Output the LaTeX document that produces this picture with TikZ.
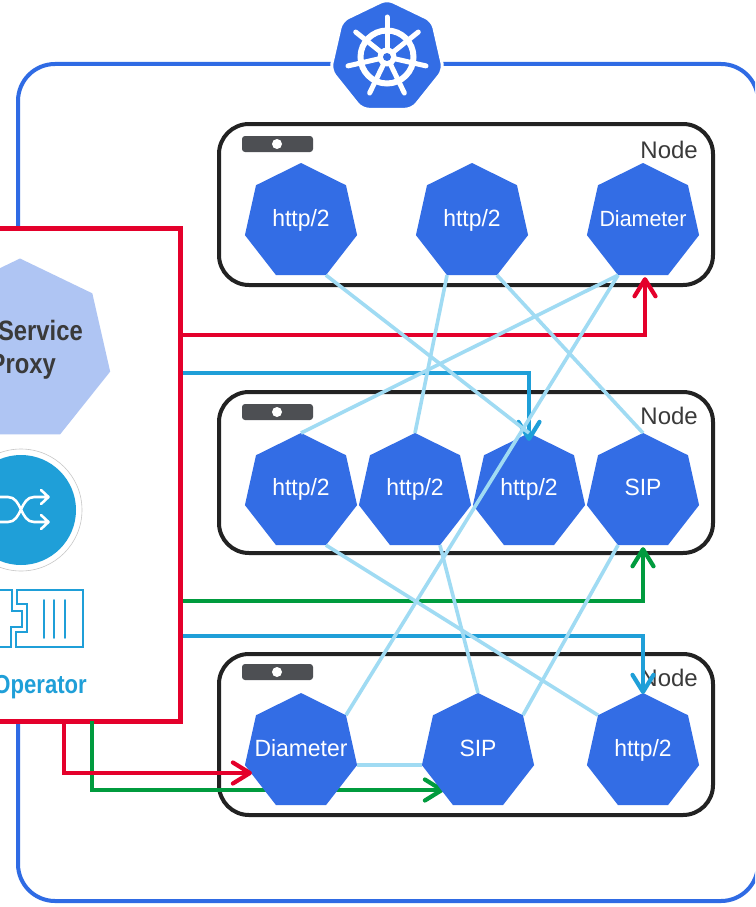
\documentclass[tikz,border=0pt]{standalone}
\usepackage{fontspec}
\usepackage{graphicx}
\setmainfont{Liberation Sans}
\usetikzlibrary{shapes.geometric,arrows.meta,calc}
\definecolor{kblue}{HTML}{336DE5}
\definecolor{kline}{HTML}{2F6BE4}
\definecolor{lightpod}{HTML}{AFC5F3}
\definecolor{redbox}{HTML}{E4002B}
\definecolor{cyanline}{HTML}{1F9FD8}
\definecolor{greenline}{HTML}{009B3E}
\definecolor{paleline}{HTML}{A0DBF3}
\definecolor{chipgrey}{HTML}{4D4F53}
\definecolor{nodeblack}{HTML}{222222}
\definecolor{textgrey}{HTML}{3A3A3A}
\newcommand{\podtext}[2]{\makebox[0pt]{\raisebox{#1}[0pt][0pt]{#2}}}
\tikzset{
  pod/.style={regular polygon,regular polygon sides=7,minimum size=118pt,inner sep=0pt,outer sep=0pt,fill=kblue,text=white,xscale=.975,transform shape,font=\fontsize{23.5}{23.5}\selectfont},
  nodebox/.style={draw=nodeblack,line width=4pt,rounded corners=30pt,minimum width=494pt,minimum height=161pt,inner sep=0pt,fill=white},
  chip/.style={fill=chipgrey,rounded corners=3pt,minimum width=71pt,minimum height=16pt,inner sep=0pt},
  chipdot/.style={circle,fill=white,minimum size=10pt,inner sep=0pt},
  nodelabel/.style={text=textgrey,font=\fontsize{24}{24}\selectfont,inner sep=0pt,anchor=east},
  wire/.style={line width=4pt,line join=miter,-{Straight Barb[length=17pt,width=21pt,line width=4.2pt,round]}},
  pale/.style={draw=paleline,line width=3.6pt},
  icon/.style={draw=cyanline,line width=1.7pt}
}
\begin{document}
\begin{tikzpicture}[x=1pt,y=-1pt]
\clip (0,0) rectangle (755,907);
\fill[white] (0,0) rectangle (755,907);
% cluster frame
\node[draw=kline,line width=4pt,rounded corners=37pt,minimum width=740pt,minimum height=837pt,inner sep=0pt] (cluster) at (388,482.5) {};
% k8s badge
\node[regular polygon,regular polygon sides=7,minimum size=116pt,inner sep=0pt,fill=kblue,draw=white,line width=3pt,rounded corners=7pt] (badge) at (387,57) {};
\begin{scope}[shift={(387,57)}]
  \draw[white,line width=6pt] (0,0) circle (26.5);
  \foreach \i in {0,...,6}
    \draw[white,line width=5pt,line cap=round] (0,0) -- ({40*cos(90+\i*360/7)},{-40*sin(90+\i*360/7)});
  \fill[white] (0,0) circle (9.5);
  \fill[kblue] (0,0) circle (4);
\end{scope}
% kubernetes nodes
\node[nodebox] (nodeA) at (466,204.5) {};
\node[nodebox] (nodeB) at (466,472.5) {};
\node[nodebox] (nodeC) at (466,734.5) {};
\node[chip] (chipA) at (277.5,144) {};
\node[chip] (chipB) at (277.5,412) {};
\node[chip] (chipC) at (277.5,672) {};
\node[chipdot] (dotA) at (277,144) {};
\node[chipdot] (dotB) at (277,412) {};
\node[chipdot] (dotC) at (277,672) {};
\node[nodelabel] (labA) at (698,150) {Node};
\node[nodelabel] (labB) at (698,416) {Node};
\node[nodelabel] (labC) at (698,678) {Node};
% proxy box
\node[draw=redbox,fill=white,line width=5pt,minimum width=280pt,minimum height=493pt,inner sep=0pt] (proxy) at (40,474.5) {};
\node[regular polygon,regular polygon sides=7,minimum size=185pt,inner sep=0pt,fill=lightpod] (svc) at (20,351) {};
\node[anchor=east,inner sep=0pt,text=textgrey,font=\fontsize{28}{28}\bfseries] (svcA) at (83,330) {\scalebox{.85}[1]{Service}};
\node[anchor=east,inner sep=0pt,text=textgrey,font=\fontsize{28}{28}\bfseries] (svcB) at (56,367) {\scalebox{.85}[1]{Proxy}};
% shuffle icon
\node[circle,draw=black!22,line width=.6pt,minimum size=122pt,inner sep=0pt] (ring) at (21,510) {};
\node[circle,fill=cyanline,minimum size=110pt,inner sep=0pt] (disc) at (21,510) {};
\draw[white,line width=2.6pt,line cap=round,line join=round]
  (-5,497) -- (8,497) .. controls (22,497) and (20,522) .. (34,522) -- (48,522)
  (-5,522) -- (8,522) .. controls (22,522) and (20,497) .. (34,497) -- (48,497)
  (41,490) -- (48.5,497) -- (41,504)
  (41,515) -- (48.5,522) -- (41,529);
% operator icon
\draw[icon,line join=miter] (-2,590) -- (12,590) -- (12,611) -- (22,611) -- (22,627) -- (11,627) -- (11,647) -- (-2,647);
\draw[icon,line join=miter] (17,604) -- (17,590) -- (83,590) -- (83,647) -- (16,647) -- (16,632) -- (27,632) -- (27,604) -- cycle;
\draw[icon,line cap=round] (44,600) -- (44,638) (54,600) -- (54,638) (65,600) -- (65,638);
\node[anchor=east,inner sep=0pt,text=cyanline,font=\fontsize{26}{26}\bfseries] (oper) at (87,687) {\scalebox{.85}[1]{Operator}};
% lower green wire, passes behind the pods
\coordinate (greenBend) at (300,790);
\draw[greenline,line width=4pt] (92,721) |- (greenBend);
\draw[wire,draw=greenline] (greenBend) -- (444,790);
% pods
\node[pod] (a1) at (301,222) {\podtext{-4pt}{http/2}};
\node[pod] (a2) at (472,222) {\podtext{-4pt}{http/2}};
\node[pod,font=\fontsize{22}{22}\selectfont] (a3) at (643,222) {\podtext{-4pt}{Diameter}};
\node[pod] (b1) at (301,492) {\podtext{-3pt}{http/2}};
\node[pod] (b2) at (415,492) {\podtext{-3pt}{http/2}};
\node[pod] (b3) at (529,492) {\podtext{-3pt}{http/2}};
\node[pod] (b4) at (643,492) {\podtext{-3pt}{SIP}};
\node[pod] (c1) at (301,752) {\podtext{-4pt}{Diameter}};
\node[pod] (c2) at (478,752) {\podtext{-4pt}{SIP}};
\node[pod] (c3) at (643,752) {\podtext{-4pt}{http/2}};
% wires
\coordinate (redEnd) at ([xshift=2pt,yshift=-2pt]a3.south);
\draw[wire,draw=redbox] (proxy.east |- 0,335) -| (redEnd);
\coordinate (cyanEndA) at ([yshift=-8pt]b3.north);
\draw[wire,draw=cyanline] (proxy.east |- 0,373) -| (cyanEndA);
\coordinate (greenEnd) at ([yshift=-2pt]b4.south);
\draw[wire,draw=greenline] (proxy.east |- 0,601) -| (greenEnd);
\coordinate (cyanEndB) at ([yshift=-1pt]c3.north);
\draw[wire,draw=cyanline] (proxy.east |- 0,636) -| (cyanEndB);
\coordinate (redEndB) at (252,773);
\draw[wire,draw=redbox] (64,721) |- (redEndB);
% pale links
\draw[pale] (a1.corner 5) -- (b3.corner 1);
\draw[pale] (a2.corner 4) -- (b2.corner 1);
\draw[pale] (a2.corner 5) -- (b4.corner 1);
\draw[pale] (a3.corner 4) -- (b1.corner 1);
\draw[pale] (a3.corner 4) -- (c1.corner 7);
\draw[pale] (b1.corner 5) -- (c3.corner 2);
\draw[pale] (b2.corner 5) -- (c2.corner 1);
\draw[pale] (b4.corner 4) -- (c2.corner 7);
\draw[pale] (c1.corner 6) -- (c2.corner 3);
\end{tikzpicture}
\end{document}
